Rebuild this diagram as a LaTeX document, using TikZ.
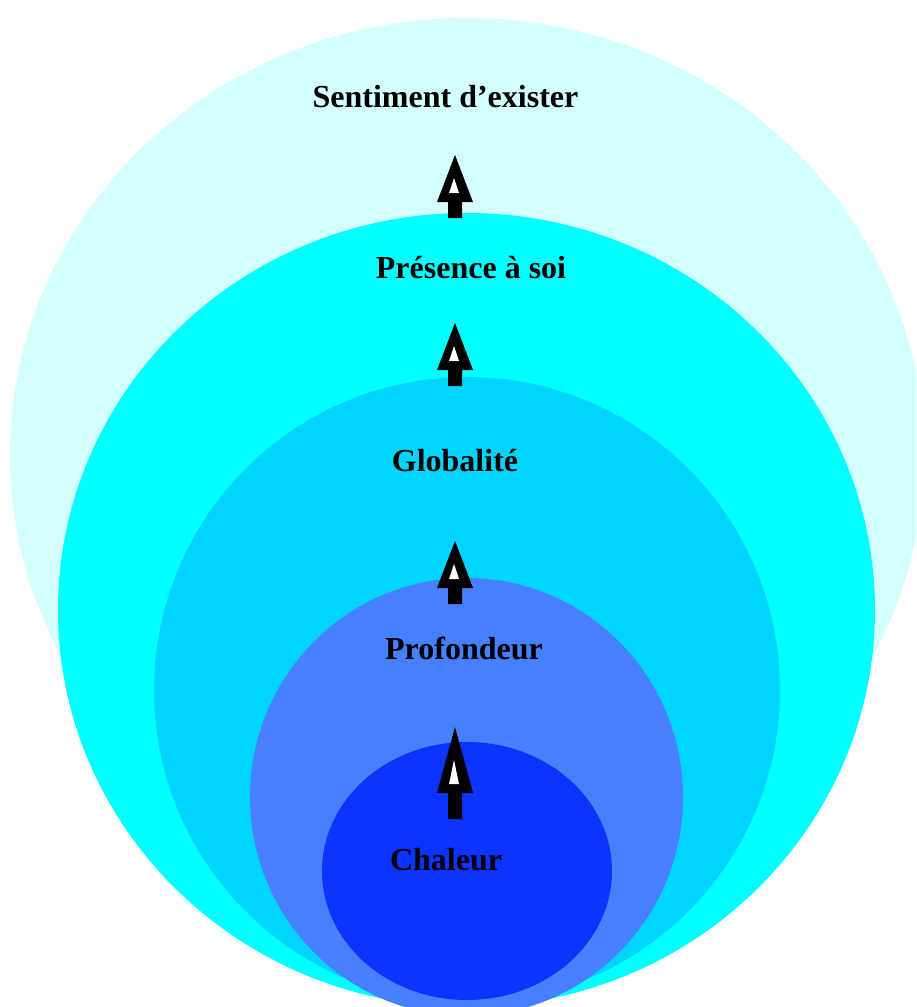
\documentclass[tikz,border=0pt]{standalone}
\usepackage{fontspec}
\setmainfont{Liberation Serif}
\definecolor{c1}{RGB}{212,255,255}
\definecolor{c2}{RGB}{0,255,255}
\definecolor{c3}{RGB}{0,212,255}
\definecolor{c4}{RGB}{70,128,255}
\definecolor{c5}{RGB}{13,51,255}
\newcommand\bigarr[5]{%
  \fill[black] (455,#1) -- (473,#2) -- (462,#2) -- (462,#3) -- (448,#3) -- (448,#2) -- (437,#2) -- cycle;
  \fill[white] (454,#4) -- (459,#5) -- (449,#5) -- cycle;}
\begin{document}
\begin{tikzpicture}[x=1pt,y=-1pt,
  lbl/.style={inner sep=0pt, anchor=base, font=\bfseries\fontsize{32}{38}\selectfont}]
\useasboundingbox (0,0) rectangle (916,1007);
\fill[white] (0,0) rectangle (916,1007);
\begin{scope}
\clip (0,0) rectangle (916,1007);
\fill[c1] (467,455) ellipse [x radius=457pt, y radius=437pt];
\fill[c2] (466.5,610) ellipse [x radius=408.5pt, y radius=397pt];
\fill[c3] (467,690) ellipse [x radius=313pt, y radius=313pt];
\fill[c4] (466.5,797) ellipse [x radius=216.5pt, y radius=219pt];
\fill[c5] (467,871) ellipse [x radius=145pt, y radius=129pt];
\end{scope}
\node[lbl] (sent) at (445.5,107) {Sentiment d’exister};
\node[lbl] (pres) at (471,278) {Présence à soi};
\node[lbl] (glob) at (455,471) {Globalité};
\node[lbl] (prof) at (464,659) {Profondeur};
\node[lbl] (chal) at (446,870) {Chaleur};
\bigarr{155}{202}{218}{178}{193}
\bigarr{323}{370}{386}{346}{361}
\bigarr{541}{588}{604}{564}{579}
\bigarr{727}{793}{819}{760}{784}
\end{tikzpicture}
\end{document}
